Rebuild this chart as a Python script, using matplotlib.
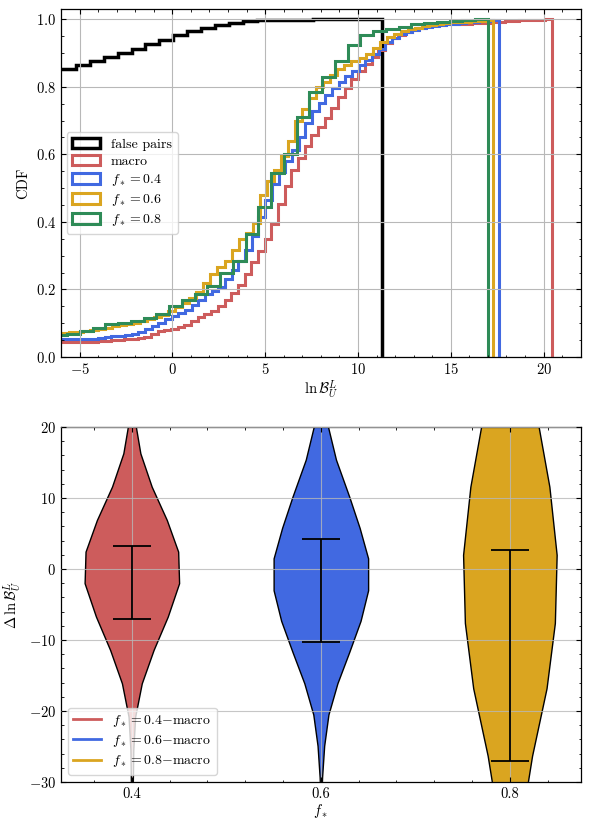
import numpy as np
import matplotlib
matplotlib.use('Agg')
import matplotlib.pyplot as plt
from matplotlib.ticker import MultipleLocator, FixedFormatter
from matplotlib.patches import Patch

plt.rcParams['font.family'] = 'serif'
plt.rcParams['font.serif'] = ['cmr10', 'DejaVu Serif']
plt.rcParams['mathtext.fontset'] = 'cm'
plt.rcParams['axes.formatter.use_mathtext'] = True
plt.rcParams['axes.unicode_minus'] = True
plt.rcParams['font.size'] = 10.5
plt.rcParams['xtick.direction'] = 'in'
plt.rcParams['ytick.direction'] = 'in'
plt.rcParams['xtick.top'] = True
plt.rcParams['ytick.right'] = True
plt.rcParams['xtick.major.size'] = 3.5
plt.rcParams['ytick.major.size'] = 3.5
plt.rcParams['xtick.minor.size'] = 1.8
plt.rcParams['ytick.minor.size'] = 1.8
plt.rcParams['xtick.minor.visible'] = True
plt.rcParams['ytick.minor.visible'] = True
plt.rcParams['axes.linewidth'] = 0.9

# ── CDF data (step values per bin) ──
# false pairs: bins of 0.75 ending at 11.3
fp_end, fp_w = 11.3, 0.75
fp_cdf = [0.853, 0.853, 0.863, 0.876, 0.888, 0.901, 0.913, 0.927, 0.939,
          0.952, 0.964, 0.973, 0.982, 0.989, 0.994, 0.997, 0.998, 0.999,
          0.999, 1.0, 1.0, 1.0, 1.0, 1.0]

# macro: bins of 0.36 ending at 20.45
macro_end, macro_w = 20.45, 0.36
macro_cdf = [0.044, 0.044, 0.044, 0.044, 0.044, 0.044, 0.045, 0.046, 0.047,
             0.049, 0.051, 0.052, 0.054, 0.056, 0.060, 0.068, 0.076, 0.081,
             0.084, 0.088, 0.096, 0.106, 0.117, 0.126, 0.137, 0.152, 0.170,
             0.188, 0.212, 0.246, 0.281, 0.314, 0.350, 0.395, 0.454, 0.505,
             0.554, 0.590, 0.625, 0.656, 0.680, 0.708, 0.738, 0.770, 0.797,
             0.822, 0.847, 0.868, 0.887, 0.910, 0.929, 0.944, 0.954, 0.963,
             0.969, 0.975, 0.979, 0.982, 0.984, 0.985, 0.986, 0.987, 0.987,
             0.988, 0.989, 0.990, 0.991, 0.993, 0.994, 0.995, 0.997, 0.998,
             0.999, 0.999, 1.0]

# f* = 0.4
f04_end, f04_w = 17.6, 0.36
f04_cdf = [0.052, 0.052, 0.052, 0.052, 0.052, 0.053, 0.054, 0.057, 0.059,
           0.061, 0.063, 0.066, 0.069, 0.073, 0.082, 0.092, 0.101, 0.112,
           0.120, 0.129, 0.140, 0.155, 0.170, 0.185, 0.195, 0.207, 0.232,
           0.257, 0.283, 0.318, 0.357, 0.413, 0.465, 0.512, 0.548, 0.580,
           0.612, 0.652, 0.693, 0.728, 0.752, 0.777, 0.797, 0.815, 0.831,
           0.847, 0.863, 0.880, 0.896, 0.913, 0.933, 0.945, 0.955, 0.963,
           0.968, 0.973, 0.977, 0.980, 0.983, 0.985, 0.987, 0.989, 0.991,
           0.992, 0.994, 0.996, 0.998]

# f* = 0.6
f06_end, f06_w = 17.25, 0.38
f06_cdf = [0.071, 0.071, 0.072, 0.073, 0.074, 0.077, 0.080, 0.084, 0.087,
           0.091, 0.094, 0.097, 0.101, 0.106, 0.111, 0.117, 0.124, 0.135,
           0.147, 0.160, 0.176, 0.192, 0.218, 0.245, 0.266, 0.285, 0.316,
           0.350, 0.366, 0.398, 0.480, 0.520, 0.555, 0.595, 0.640, 0.700,
           0.735, 0.768, 0.798, 0.815, 0.834, 0.852, 0.865, 0.875, 0.885,
           0.898, 0.915, 0.932, 0.947, 0.956, 0.964, 0.970, 0.975, 0.980,
           0.984, 0.987, 0.989, 0.991, 0.992, 0.993, 0.994, 0.996, 0.998]

# f* = 0.8
f08_end, f08_w = 17.0, 0.687
f08_cdf = [0.066, 0.068, 0.076, 0.086, 0.097, 0.100, 0.108, 0.115, 0.128,
           0.150, 0.168, 0.185, 0.210, 0.250, 0.285, 0.365, 0.445, 0.545,
           0.600, 0.710, 0.785, 0.828, 0.876, 0.923, 0.953, 0.966, 0.970,
           0.978, 0.985, 0.988, 0.993, 0.995, 0.998, 1.0]

cdf_series = [
    ("false pairs", fp_cdf, fp_end, fp_w, "black", 2.5),
    ("macro", macro_cdf, macro_end, macro_w, "indianred", 2.2),
    (r"$f_* = 0.4$", f04_cdf, f04_end, f04_w, "royalblue", 2.2),
    (r"$f_* = 0.6$", f06_cdf, f06_end, f06_w, "goldenrod", 2.2),
    (r"$f_* = 0.8$", f08_cdf, f08_end, f08_w, "seagreen", 2.2),
]

# ── Violin data: (value, half width) profiles ──
fstar = [0.4, 0.6, 0.8]
viol_colors = ["indianred", "royalblue", "goldenrod"]
viol_labels = [r"$f_* = 0.4{-}$macro", r"$f_* = 0.6{-}$macro",
               r"$f_* = 0.8{-}$macro"]

v04_y = [25.5, 21.0, 16.3, 11.6, 6.9, 2.45, -2.0, -6.7, -11.4, -16.1,
         -20.8, -25.5, -30.2, -35.0]
v04_hw = [0.0, 0.003, 0.009, 0.021, 0.037, 0.049, 0.050, 0.038, 0.023,
          0.0105, 0.0035, 0.0015, 0.001, 0.0]

v06_y = [24.5, 19.9, 15.4, 10.2, 5.8, 1.5, -3.0, -7.3, -11.7, -16.1,
         -20.5, -24.9, -29.3, -34.0]
v06_hw = [0.0035, 0.0078, 0.016, 0.030, 0.041, 0.050, 0.050, 0.042, 0.030,
          0.0175, 0.008, 0.0035, 0.0013, 0.0]

v08_y = [30.5, 21.1, 11.6, 2.0, -7.6, -16.8, -26.3, -35.8]
v08_hw = [0.014, 0.029, 0.0418, 0.0495, 0.0476, 0.0388, 0.0235, 0.012]

viol_y = [v04_y, v06_y, v08_y]
viol_hw = [v04_hw, v06_hw, v08_hw]

err_lo = [-7.05, -10.25, -27.0]
err_hi = [3.25, 4.29, 2.69]
cap_hw = 0.02

fig = plt.figure(figsize=(5.92, 8.22), dpi=100)

# ── Top panel: CDFs ──
ax1 = fig.add_axes([0.103, 0.5657, 0.878, 0.4233])
handles = []
for label, vals, end, w, col, lw in cdf_series:
    n = len(vals)
    edges = end - w * np.arange(n, -1, -1)
    ax1.stairs(vals, edges, baseline=0, fill=False, color=col, lw=lw)
    handles.append(Patch(facecolor="none", edgecolor=col, lw=lw, label=label))
ax1.set_xlim(-6, 22)
ax1.set_ylim(0, 1.03)
ax1.xaxis.set_major_locator(MultipleLocator(5))
ax1.xaxis.set_minor_locator(MultipleLocator(1))
ax1.yaxis.set_major_locator(MultipleLocator(0.2))
ax1.yaxis.set_minor_locator(MultipleLocator(0.05))
ax1.grid(True, color="#b8b8b8", lw=0.8)
ax1.set_xlabel(r"$\ln\mathcal{B}^L_U$", labelpad=1)
ax1.set_ylabel("CDF")
ax1.legend(handles=handles, loc="center left", fontsize=10,
           framealpha=0.8, edgecolor="#cccccc", borderaxespad=0.4,
           labelspacing=0.3, handleheight=0.8)

# ── Bottom panel: violins ──
ax2 = fig.add_axes([0.103, 0.0487, 0.878, 0.4318])
for x0, vy, hw, col, lab in zip(fstar, viol_y, viol_hw, viol_colors,
                                viol_labels):
    vy = np.array(vy)
    hw = np.array(hw)
    ax2.fill_betweenx(vy, x0 - hw, x0 + hw, facecolor=col,
                      edgecolor="black", lw=1.0, zorder=1)
    ax2.plot([], [], color=col, lw=2, label=lab)
ax2.vlines(fstar, err_lo, err_hi, color="black", lw=1.3, zorder=3)
ax2.hlines(err_lo, np.array(fstar) - cap_hw, np.array(fstar) + cap_hw,
           color="black", lw=1.3, zorder=3)
ax2.hlines(err_hi, np.array(fstar) - cap_hw, np.array(fstar) + cap_hw,
           color="black", lw=1.3, zorder=3)
ax2.set_xlim(0.325, 0.875)
ax2.set_ylim(-30, 20)
ax2.set_xticks(fstar)
ax2.xaxis.set_major_formatter(FixedFormatter(["0.4", "0.6", "0.8"]))
ax2.xaxis.set_minor_locator(MultipleLocator(0.04))
ax2.yaxis.set_major_locator(MultipleLocator(10))
ax2.yaxis.set_minor_locator(MultipleLocator(2))
ax2.set_axisbelow(False)
ax2.grid(True, color="#b8b8b8", lw=0.8, alpha=0.8)
ax2.set_xlabel(r"$f_*$", labelpad=1)
ax2.set_ylabel(r"$\Delta\,\ln\mathcal{B}^L_U$")
leg = ax2.legend(loc="lower left", fontsize=10, framealpha=0.8,
                 edgecolor="#cccccc", labelspacing=0.3)
leg.set_zorder(5)

fig.savefig("out.png", dpi=100)
